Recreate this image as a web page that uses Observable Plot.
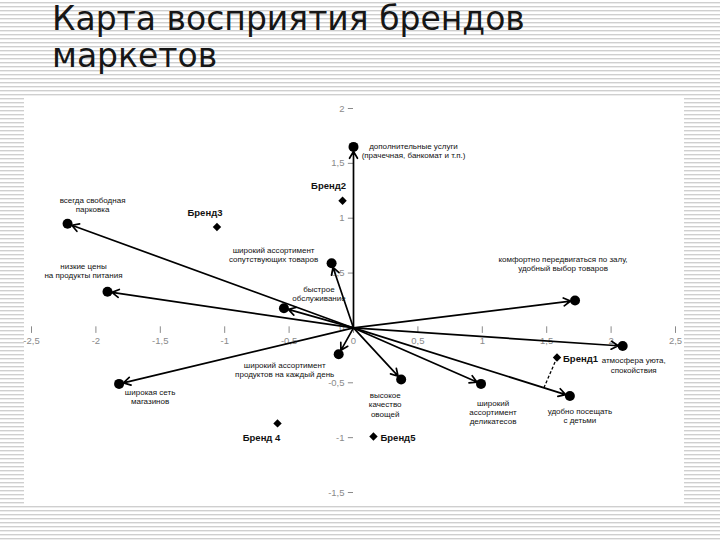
<!DOCTYPE html>
<html>
<head>
<meta charset="utf-8">
<script src="https://cdn.jsdelivr.net/npm/d3@7"></script>
<script src="https://cdn.jsdelivr.net/npm/@observablehq/plot@0.6"></script>
<style>
  html, body { margin: 0; padding: 0; }
  body {
    width: 720px; height: 540px; position: relative; overflow: hidden;
    background: repeating-linear-gradient(to bottom, #ffffff 0px, #ffffff 2px, #cfcfcf 2px, #cfcfcf 3px, #ececec 3px, #ececec 4px);
  }
  #title {
    position: absolute; left: 52px; top: 0px;
    font-family: "DejaVu Sans", Verdana, sans-serif; font-size: 33px; line-height: 37px;
    color: #161616; white-space: nowrap;
  }
  #chart {
    position: absolute; left: 24px; top: 96px; width: 660px; height: 408px; background: #fff;
  }
</style>
</head>
<body>
<div id="title">Карта восприятия брендов<br>маркетов</div>
<div id="chart"></div>
<script>
// Attributes (vectors from the origin)
const attrNames = [
  "дополнительные услуги\n(прачечная, банкомат и т.п.)",
  "всегда свободная\nпарковка",
  "низкие цены\nна продукты питания",
  "широкий ассортимент\nсопутствующих товаров",
  "быстрое\nобслуживание",
  "комфортно передвигаться по залу,\nудобный выбор товаров",
  "атмосфера уюта,\nспокойствия",
  "удобно посещать\nс детьми",
  "широкий\nассортимент\nделикатесов",
  "высокое\nкачество\nовощей",
  "широкий ассортимент\nпродуктов на каждый день",
  "широкая сеть\nмагазинов"
];
const attrX = [0.0, -2.22, -1.91, -0.17, -0.54, 1.72, 2.09, 1.68, 0.99, 0.37, -0.115, -1.82];
const attrY = [1.65, 0.95, 0.33, 0.59, 0.18, 0.25, -0.165, -0.62, -0.51, -0.47, -0.24, -0.51];

// Brands
const brandNames = ["Бренд1", "Бренд2", "Бренд3", "Бренд 4", "Бренд5"];
const brandX = [1.58, -0.085, -1.06, -0.59, 0.155];
const brandY = [-0.27, 1.16, 0.92, -0.87, -0.99];

// Axis ticks
const xTicks = [-2.5, -2, -1.5, -1, -0.5, 0, 0.5, 1, 1.5, 2, 2.5];
const yTicks = [-1.5, -1, -0.5, 0, 0.5, 1, 1.5, 2];

// Layout (label offsets in px)
const attrLabelOffset = [[60, 4], [25, -19], [-24, -21], [-58, -9], [35, -15], [-12, -37],
  [11, 19], [10, 20], [12, 28], [-16, 25], [-54, 15], [31, 13]];
const brandLabelLayout = [
  {dx: 6, dy: 1, anchor: "start"},
  {dx: -14, dy: -15, anchor: "middle"},
  {dx: -12, dy: -14, anchor: "middle"},
  {dx: -16, dy: 15, anchor: "middle"},
  {dx: 7, dy: 1, anchor: "start"}
];

const attrs = attrNames.map((name, i) => ({name, x: attrX[i], y: attrY[i]}));
const brands = brandNames.map((name, i) => ({name, x: brandX[i], y: brandY[i]}));
const fmt = d => String(d).replace(".", ",");

// projection of Бренд1 onto the "удобно посещать с детьми" vector
const b1 = brands[0], a8 = attrs[7];
const t = (b1.x * a8.x + b1.y * a8.y) / (a8.x * a8.x + a8.y * a8.y);
const proj = [{x1: a8.x * t, y1: a8.y * t, x2: b1.x, y2: b1.y}];

const marks = [
  // x axis ticks & labels
  Plot.ruleX(xTicks, {x: d => d, y1: 0.01, y2: -0.05, stroke: "#8a8a8a", strokeWidth: 1}),
  Plot.text(xTicks, {x: d => d, y: 0, text: fmt, dy: 13, fill: "#8a8a8a", fontSize: 9.5}),
  // y axis ticks & labels
  Plot.ruleY(yTicks, {y: d => d, x1: -0.04, x2: 0, stroke: "#8a8a8a", strokeWidth: 1}),
  Plot.text(yTicks, {x: 0, y: d => d, text: fmt, dx: -9, textAnchor: "end", fill: "#8a8a8a", fontSize: 9.5}),
  // vectors
  Plot.arrow(attrs, {x1: 0, y1: 0, x2: "x", y2: "y", stroke: "#000", strokeWidth: 1.7, headLength: 7, insetEnd: 4.5}),
  Plot.dot(attrs, {x: "x", y: "y", r: 5, fill: "#000"}),
  // projection line
  Plot.link(proj, {x1: "x1", y1: "y1", x2: "x2", y2: "y2", stroke: "#000", strokeWidth: 1.3, strokeDasharray: "3,2", insetEnd: 3}),
  // brands
  Plot.dot(brands, {x: "x", y: "y", symbol: "diamond2", r: 3.8, fill: "#000"}),
  ...attrs.map((d, i) => Plot.text([d], {x: "x", y: "y", text: "name", dx: attrLabelOffset[i][0], dy: attrLabelOffset[i][1],
    fontSize: 8, lineHeight: 1.15, fill: "#111", textAnchor: "middle"})),
  ...brands.map((d, i) => Plot.text([d], {x: "x", y: "y", text: "name", dx: brandLabelLayout[i].dx, dy: brandLabelLayout[i].dy,
    textAnchor: brandLabelLayout[i].anchor, fontSize: 9.5, fontWeight: "bold", fill: "#111"}))
];

const chart = Plot.plot({
  width: 660,
  height: 408,
  marginLeft: 7,
  marginRight: 9,
  marginTop: 12,
  marginBottom: 12,
  x: {domain: [-2.5, 2.5], axis: null},
  y: {domain: [-1.5, 2], axis: null},
  style: {background: "#fff", fontFamily: "'Liberation Sans', Arial, sans-serif", overflow: "visible"},
  marks
});
document.getElementById("chart").appendChild(chart);
</script>
</body>
</html>
